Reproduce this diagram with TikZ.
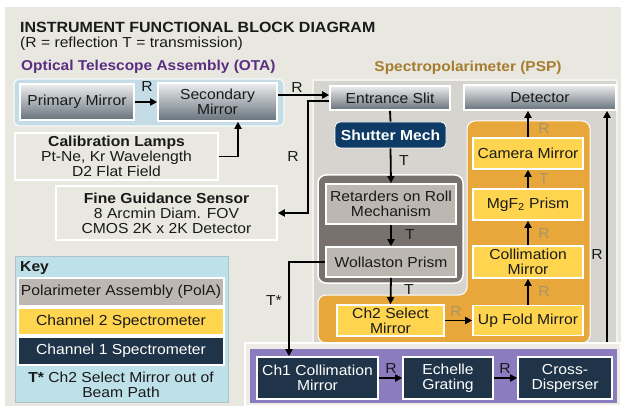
\documentclass[tikz,border=0pt]{standalone}
\usepackage{fontspec}
\setmainfont{Liberation Sans}[FakeStretch=1.08]
\usetikzlibrary{arrows.meta,calc}
\definecolor{bgc}{HTML}{E9E8E0}
\definecolor{otafill}{HTML}{C3DCE6}
\definecolor{pspfill}{HTML}{D6D4CF}
\definecolor{polafill}{HTML}{78716D}
\definecolor{polabox}{HTML}{BDB7B2}
\definecolor{chtwo}{HTML}{E8A73A}
\definecolor{chtwobox}{HTML}{FFD54F}
\definecolor{navy}{HTML}{1F3448}
\definecolor{shutter}{HTML}{0E3A66}
\definecolor{chonefill}{HTML}{8A7CBF}
\definecolor{keyfill}{HTML}{BEE0E8}
\definecolor{otatitle}{HTML}{5A2D82}
\definecolor{psptitle}{HTML}{A67C2E}
\definecolor{muted}{HTML}{A8936A}
\definecolor{ink}{HTML}{1A1A1A}
\definecolor{metaltop}{HTML}{EDEDED}
\definecolor{metalmid}{HTML}{C0C4C8}
\definecolor{metalbot}{HTML}{66727C}
\begin{document}
\begin{tikzpicture}[x=1pt,y=-1pt,
  fs/.style={font=\fontsize{14.5}{15}\selectfont},
  box/.style={fs,draw=white,line width=1.6pt,inner sep=1pt,align=center,text=ink},
  metal/.style={box,top color=metaltop,middle color=metalmid,bottom color=metalbot},
  plain/.style={box,fill=bgc},
  grayb/.style={box,fill=polabox},
  yellowb/.style={box,fill=chtwobox},
  navyb/.style={box,fill=navy,text=white},
  arr/.style={line width=1.8pt,draw=black,-{Triangle[length=7pt,width=7pt]}},
  ln/.style={line width=1.8pt,draw=black},
  lab/.style={fs,text=ink,inner sep=0pt},
  mlab/.style={fs,text=muted,inner sep=0pt}]
\useasboundingbox (0,0) rectangle (621,406);
\fill[white] (0,0) rectangle (621,406);
\fill[bgc] (5,7) rectangle (621,406);

% titles
\node[anchor=west,font=\fontsize{14.8}{16}\selectfont\bfseries,text=ink,inner sep=0pt] (title) at (20,27) {INSTRUMENT FUNCTIONAL BLOCK DIAGRAM};
\node[anchor=west,fs,text=ink,inner sep=0pt] (sub) at (20,44) {(R = reflection T = transmission)};
\node[anchor=west,font=\fontsize{14.3}{16}\selectfont\bfseries,text=otatitle,inner sep=0pt] (otat) at (21,67) {Optical Telescope Assembly (OTA)};
\node[font=\fontsize{14.3}{16}\selectfont\bfseries,text=psptitle,inner sep=0pt] (pspt) at (468,68) {Spectropolarimeter (PSP)};

% containers
\draw[draw=white!85!otafill,line width=1.2pt,fill=otafill,rounded corners=6pt] (14,79) rectangle (284,126);
\draw[draw=white!70!pspfill,line width=1.5pt,fill=pspfill] (313,80) rectangle (617,346);
\draw[draw=white,line width=1.5pt,fill=polafill,rounded corners=8pt] (318,175) rectangle (463,283);
\draw[draw=white,line width=1pt,fill=chtwo,rounded corners=8pt]
  (467,121) -- (590,121) -- (590,343) -- (318,343) -- (318,295) -- (467,295) -- cycle;
\node[draw=white,line width=1.5pt,fill=bgc!80!white,minimum width=376pt,minimum height=63pt,inner sep=0pt] (ch1reg) at (433,374.5) {};
\fill[chonefill] (250,349) rectangle (617,403);

% OTA
\node[metal,minimum width=114pt,minimum height=36pt] (pm) at (77,102) {Primary Mirror};
\node[metal,minimum width=119pt,minimum height=38pt] (sm) at (217.5,102) {Secondary\\Mirror};
\node[plain,minimum width=203pt,minimum height=47pt] (cal) at (116.5,156.5) {\textbf{Calibration Lamps}\\Pt-Ne, Kr Wavelength\\D2 Flat Field};
\node[plain,minimum width=221pt,minimum height=54pt] (fgs) at (166.5,213) {\textbf{Fine Guidance Sensor}\\8 Arcmin Diam. FOV\\CMOS 2K x 2K Detector};

% PSP
\node[metal,minimum width=120pt,minimum height=24pt] (ent) at (390,98) {Entrance Slit};
\node[metal,minimum width=152pt,minimum height=25pt] (det) at (540,97.5) {Detector};
\node[box,fill=shutter,text=white,font=\fontsize{14.5}{15}\selectfont\bfseries,rounded corners=5pt,line width=0.8pt,minimum width=111pt,minimum height=26pt] (shut) at (390.5,135) {Shutter Mech};
\node[grayb,minimum width=130pt,minimum height=40pt] (ret) at (391,204) {Retarders on Roll\\Mechanism};
\node[grayb,minimum width=130pt,minimum height=30pt] (wol) at (391,262) {Wollaston Prism};
\node[yellowb,minimum width=107pt,minimum height=31pt] (sel) at (390.5,320.5) {Ch2 Select\\Mirror};
\node[yellowb,minimum width=110pt,minimum height=30pt] (upf) at (528,320.5) {Up Fold Mirror};
\node[yellowb,minimum width=110pt,minimum height=32pt] (colm) at (528,262) {Collimation\\Mirror};
\node[yellowb,minimum width=110pt,minimum height=31pt] (mgf) at (528,204.5) {MgF\textsubscript{2} Prism};
\node[yellowb,minimum width=110pt,minimum height=31pt] (cam) at (528,153.5) {Camera Mirror};
\node[navyb,minimum width=121pt,minimum height=42pt,inner sep=0pt] (c1c) at (317.5,378) {Ch1 Collimation\\Mirror};
\node[navyb,minimum width=90pt,minimum height=42pt] (ech) at (448,378) {Echelle\\Grating};
\node[navyb,minimum width=94pt,minimum height=42pt] (crd) at (565,378) {Cross-\\Disperser};

% Key
\node[draw=keyfill!70!gray,line width=1pt,fill=keyfill,minimum width=213pt,minimum height=146pt,inner sep=0pt] (key) at (121.5,329) {};
\node[anchor=west,font=\fontsize{14.5}{15}\selectfont\bfseries,text=ink,inner sep=0pt] (keyt) at (20,268) {Key};
\node[grayb,minimum width=206pt,minimum height=28pt,inner sep=0pt] (k1) at (121,292) {Polarimeter Assembly (PolA)};
\node[yellowb,minimum width=206pt,minimum height=27pt] (k2) at (121,321.5) {Channel 2 Spectrometer};
\node[navyb,minimum width=206pt,minimum height=28pt] (k3) at (121,351) {Channel 1 Spectrometer};
\node[fs,text=ink,align=center,inner sep=0pt] (k4) at (121,385) {\textbf{T*} Ch2 Select Mirror out of\\Beam Path};

% connectors OTA
\draw[arr] (pm.east) -- (sm.west);
\node[lab] (r1) at (147,87) {R};
\draw[arr] ($(sm.east)+(0,-7)$) -- ($(ent.west)+(0,-3)$);
\node[lab] (r2) at (297,88) {R};
\draw[arr] ($(ent.west)+(0,3)$) -| (308,213) -- (fgs.east);
\node[lab] (r3) at (293,157) {R};
\draw[arr] (cal.east) -| ($(sm.south)+(20.5,0)$);

% PSP connectors
\draw[ln] (ent.south) -- (shut.north);
\draw[arr] (shut.south) -- (ret.north);
\node[lab] (t1) at (404,161) {T};
\draw[arr] (ret.south) -- (wol.north);
\node[lab] (t2) at (410,235) {T};
\draw[arr] (wol.south) -- (sel.north);
\node[lab] (t3) at (409,290) {T};
\draw[arr] (wol.west) -| ($(c1c.north)+(-28.5,0)$);
\node[lab] (ts) at (274,301) {T*};
\draw[arr] (sel.east) -- (upf.west);
\node[mlab] (m1) at (456,312) {R};
\draw[arr] (upf.north) -- (colm.south);
\node[mlab] (m2) at (544,292) {R};
\draw[arr] (colm.north) -- (mgf.south);
\node[mlab] (m3) at (544,234) {R};
\draw[arr] (mgf.north) -- (cam.south);
\node[mlab] (m4) at (544,179) {T};
\draw[arr] (cam.north) -- (cam.north |- det.south);
\node[mlab] (m5) at (544,129) {R};
\draw[arr] (c1c.east) -- (ech.west);
\node[lab] (r4) at (391,369) {R};
\draw[arr] (ech.east) -- (crd.west);
\node[lab] (r5) at (505,369) {R};
\draw[arr] (ch1reg.north -| 607,0) -- (det.south -| 607,0);
\node[lab] (r6) at (597,255) {R};
\end{tikzpicture}
\end{document}
